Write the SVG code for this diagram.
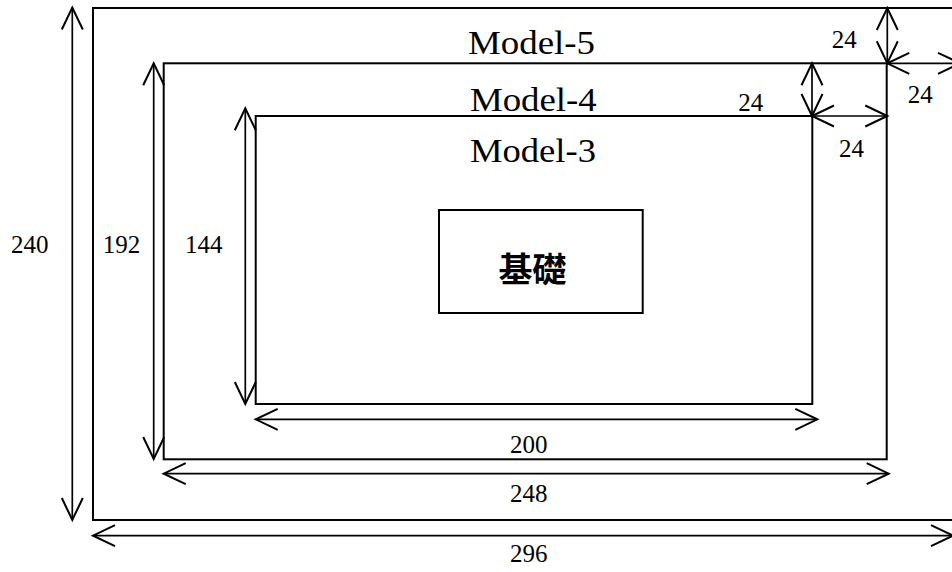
<svg xmlns="http://www.w3.org/2000/svg" width="952" height="572" viewBox="0 0 952 572">
<style>
.box{fill:none;stroke:#000;stroke-width:2}
.dim{fill:none;stroke:#000;stroke-width:1.7;marker-start:url(#ah);marker-end:url(#ah)}
.num{font-family:"Liberation Serif","Times New Roman",serif;font-size:25px;fill:#000}
.lbl{font-family:"Liberation Serif","Times New Roman",serif;font-size:33px;fill:#000}
.cjk{font-family:"Liberation Serif","Noto Sans CJK TC","Noto Sans CJK SC",serif;font-size:34px;font-weight:bold;fill:#000}
</style>
<defs>
<marker id="ah" markerUnits="userSpaceOnUse" markerWidth="30" markerHeight="30" viewBox="-26 -15 30 30" refX="0" refY="0" orient="auto-start-reverse" overflow="visible">
<path d="M-22,-10.5 L0,0 L-22,10.5" fill="none" stroke="#000" stroke-width="2"/>
</marker>
</defs>
<rect width="952" height="572" fill="#fff"/>
<g id="model5">
<rect class="box" x="93" y="8" width="880" height="512"/>
<text class="lbl" x="468" y="54" textLength="127" lengthAdjust="spacingAndGlyphs">Model-5</text>
</g>
<g id="model4">
<rect class="box" x="163.7" y="63.3" width="723" height="396"/>
<text class="lbl" x="470" y="110.5" textLength="126.7" lengthAdjust="spacingAndGlyphs">Model-4</text>
</g>
<g id="model3">
<rect class="box" x="255.7" y="116" width="556.6" height="288"/>
<text class="lbl" x="470" y="162" textLength="126" lengthAdjust="spacingAndGlyphs">Model-3</text>
</g>
<g id="foundation">
<rect class="box" x="439" y="210" width="203.7" height="103"/>
<text class="cjk" x="532.5" y="282" text-anchor="middle">基礎</text>
</g>
<g id="connectors">
<line class="dim" x1="72.3" y1="7.5" x2="72.3" y2="520"/>
<line class="dim" x1="153.7" y1="63.3" x2="153.7" y2="459"/>
<line class="dim" x1="245.3" y1="108.3" x2="245.3" y2="404"/>
<line class="dim" x1="93" y1="535.7" x2="953" y2="535.7"/>
<line class="dim" x1="163.7" y1="473.7" x2="888.7" y2="473.7"/>
<line class="dim" x1="255.7" y1="419.3" x2="817.3" y2="419.3"/>
<line class="dim" x1="887.3" y1="8" x2="887.3" y2="63.3"/>
<line class="dim" x1="887.3" y1="63.3" x2="960" y2="63.3"/>
<line class="dim" x1="812" y1="63.3" x2="812" y2="116"/>
<line class="dim" x1="812" y1="116" x2="887.3" y2="116"/>
</g>
<g id="dimension-labels">
<text class="num" x="11" y="253.3">240</text>
<text class="num" x="102.7" y="253.3">192</text>
<text class="num" x="185" y="253.3">144</text>
<text class="num" x="510" y="453.3">200</text>
<text class="num" x="510" y="501.7">248</text>
<text class="num" x="510" y="561.7">296</text>
<text class="num" x="831.7" y="48.3">24</text>
<text class="num" x="907.7" y="102.7">24</text>
<text class="num" x="738.3" y="110.7">24</text>
<text class="num" x="839" y="157">24</text>
</g>
</svg>
